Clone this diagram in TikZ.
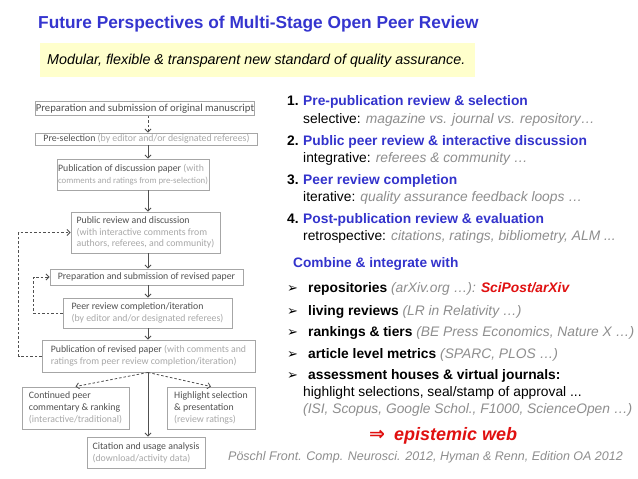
\documentclass[tikz,border=0pt]{standalone}
\usepackage{fontspec}
\setmainfont{Liberation Sans}
\newfontfamily\calibri{Carlito}
\newfontfamily\djv{DejaVu Sans}
\usetikzlibrary{arrows.meta}
\definecolor{titleblue}{HTML}{3535CF}
\definecolor{itemblue}{HTML}{3333CC}
\definecolor{lgray}{HTML}{8E8E8E}
\definecolor{boxgray}{HTML}{A6A6A6}
\definecolor{darkg}{HTML}{505050}
\definecolor{lightg}{HTML}{A8A8A8}
\definecolor{redx}{HTML}{E01010}
\definecolor{yellowbg}{HTML}{FFFFCC}
\tikzset{
  fbox/.style={draw=boxgray, line width=0.9bp, inner sep=0pt, align=left, text=darkg,
    font=\calibri\fontsize{9.8bp}{11.8bp}\selectfont},
  arr/.style={draw=darkg, line width=0.8bp, -{Straight Barb[length=3bp,width=6bp]}},
  darr/.style={arr, dash pattern=on 2.5bp off 2bp},
  rtext/.style={anchor=base west, inner sep=0pt, font=\fontsize{13.8bp}{16.5bp}\selectfont},
  bul/.style={anchor=base west, inner sep=0pt, font=\djv\fontsize{13bp}{14bp}\selectfont},
}
\newcommand{\lgt}[1]{\textcolor{lightg}{#1}}
\newcommand{\gyi}[1]{\textcolor{lgray}{\itshape #1}}
\begin{document}
\begin{tikzpicture}[x=1bp,y=-1bp]
\fill[white] (0,0) rectangle (638,479);
\useasboundingbox (0,0) rectangle (638,479);
% title
\node[anchor=base west, inner sep=0pt, text=titleblue, font=\bfseries\fontsize{17.3bp}{20bp}\selectfont] (title) at (38,28.3) {Future Perspectives of Multi-Stage Open Peer Review};
\fill[yellowbg] (40,43) rectangle (475,77);
\node[anchor=base west, inner sep=0pt, font=\itshape\fontsize{14.3bp}{17bp}\selectfont] (sub) at (47,65) {Modular, flexible \& transparent new standard of quality assurance.};
% flowchart
\node[fbox, minimum width=213bp, minimum height=14bp, font=\calibri\fontsize{10.7bp}{12bp}\selectfont] (b1) at (145,108.5) {Preparation and submission of original manuscript};
\node[fbox, minimum width=222bp, minimum height=12bp] (b2) at (146.5,139) {Pre-selection \lgt{(by editor and/or designated referees)}};
\node[fbox, minimum width=152bp, minimum height=31bp] (b3) at (133,174.5) {Publication of discussion paper \lgt{(with}\\\lgt{\fontsize{8.8bp}{11.8bp}\selectfont comments and ratings from pre-selection)}};
\node[fbox, minimum width=149bp, minimum height=41bp] (b4) at (145.5,232.5) {Public review and discussion\\\lgt{(with interactive comments from}\\\lgt{authors, referees, and community)}};
\node[fbox, minimum width=193bp, minimum height=16bp] (b5) at (146.5,277) {Preparation and submission of revised paper};
\node[fbox, minimum width=169bp, minimum height=30bp] (b6) at (147.5,313) {Peer review completion/iteration\\\lgt{(by editor and/or designated referees)}};
\node[fbox, minimum width=213bp, minimum height=32bp] (b7) at (148.5,356) {Publication of revised paper \lgt{(with comments and}\\\lgt{ratings from peer review completion/iteration)}};
\node[fbox, minimum width=107bp, minimum height=42bp] (b8) at (75.5,408) {Continued peer\\commentary \& ranking\\\lgt{(interactive/traditional)}};
\node[fbox, minimum width=88bp, minimum height=42bp] (b9) at (211,408) {Highlight selection\\\& presentation\\\lgt{(review ratings)}};
\node[fbox, minimum width=118bp, minimum height=31bp] (b10) at (146,452.5) {Citation and usage analysis\\\lgt{(download/activity data)}};
\coordinate (ax) at (148,0);
\draw[darr] (b1.south -| ax) -- (b2.north -| ax);
\draw[arr] (b2.south -| ax) -- (b3.north -| ax);
\draw[arr] (b3.south -| ax) -- (b4.north -| ax);
\draw[arr] (b4.south -| ax) -- (b5.north -| ax);
\draw[arr] (b5.south -| ax) -- (b6.north -| ax);
\draw[arr] (b6.south -| ax) -- (b7.north -| ax);
\draw[arr] (b7.south -| ax) -- (b10.north -| ax);
\draw[darr] (b7.south -| ax) -- (b8.north);
\draw[darr] (b7.south -| ax) -- (b9.north);
\draw[darr] (b6.west) -- ++(-29,0) |- (b5.west);
\draw[darr] (b7.west) -- ++(-23,0) |- (b4.west);
% right column: stages
\node[rtext, font=\bfseries\fontsize{13.8bp}{16.5bp}\selectfont] (n1) at (287,106) {1.};
\node[rtext, text=itemblue, font=\bfseries\fontsize{13.8bp}{16.5bp}\selectfont] (t1) at (303,106) {Pre-publication review \& selection};
\node[rtext] (s1) at (303,123.3) {selective: \gyi{magazine vs. journal vs. repository…}};
\node[rtext, font=\bfseries\fontsize{13.8bp}{16.5bp}\selectfont] (n2) at (287,146) {2.};
\node[rtext, text=itemblue, font=\bfseries\fontsize{13.8bp}{16.5bp}\selectfont] (t2) at (303,146) {Public peer review \& interactive discussion};
\node[rtext] (s2) at (303,162.7) {integrative: \gyi{referees \& community …}};
\node[rtext, font=\bfseries\fontsize{13.8bp}{16.5bp}\selectfont] (n3) at (287,184.3) {3.};
\node[rtext, text=itemblue, font=\bfseries\fontsize{13.8bp}{16.5bp}\selectfont] (t3) at (303,184.3) {Peer review completion};
\node[rtext] (s3) at (303,201.7) {iterative: \gyi{quality assurance feedback loops …}};
\node[rtext, font=\bfseries\fontsize{13.8bp}{16.5bp}\selectfont] (n4) at (287,223.3) {4.};
\node[rtext, text=itemblue, font=\bfseries\fontsize{13.8bp}{16.5bp}\selectfont] (t4) at (303,223.3) {Post-publication review \& evaluation};
\node[rtext] (s4) at (303,240.7) {retrospective: \gyi{citations, ratings, bibliometry, ALM ...}};
% combine
\node[rtext, text=itemblue, font=\bfseries\fontsize{13.7bp}{16.5bp}\selectfont] (comb) at (293,267.3) {Combine \& integrate with};
\node[bul] (u1) at (287,292.7) {➢};
\node[rtext] (r1) at (308,292.7) {\textbf{repositories} \gyi{(arXiv.org …):} \textcolor{redx}{\bfseries\itshape SciPost/arXiv}};
\node[bul] (u2) at (287,315) {➢};
\node[rtext] (r2) at (308,315) {\textbf{living reviews} \gyi{(LR in Relativity …)}};
\node[bul] (u3) at (287,336) {➢};
\node[rtext] (r3) at (308,336) {\textbf{rankings \& tiers} \gyi{(BE Press Economics, Nature X …)}};
\node[bul] (u4) at (287,358.3) {➢};
\node[rtext] (r4) at (308,358.3) {\textbf{article level metrics} \gyi{(SPARC, PLOS …)}};
\node[bul] (u5) at (287,379.3) {➢};
\node[rtext] (r5) at (308,379.3) {\textbf{assessment houses \& virtual journals:}};
\node[rtext] (r5b) at (303,396.7) {highlight selections, seal/stamp of approval ...};
\node[rtext] (r5c) at (303,413.3) {\gyi{(ISI, Scopus, Google Schol., F1000, ScienceOpen …)}};
\node[anchor=base west, inner sep=0pt, text=redx, font=\bfseries\itshape\fontsize{18bp}{20bp}\selectfont] (epi) at (369,440) {{\djv\upshape\bfseries\fontsize{19bp}{20bp}\selectfont ⇒}\hspace{4bp} epistemic web};
\node[anchor=base west, inner sep=0pt, text=lgray, font=\itshape\fontsize{12.5bp}{15bp}\selectfont] (cite) at (228,460.7) {Pöschl Front. Comp. Neurosci. 2012, Hyman \& Renn, Edition OA 2012};
\end{tikzpicture}
\end{document}
